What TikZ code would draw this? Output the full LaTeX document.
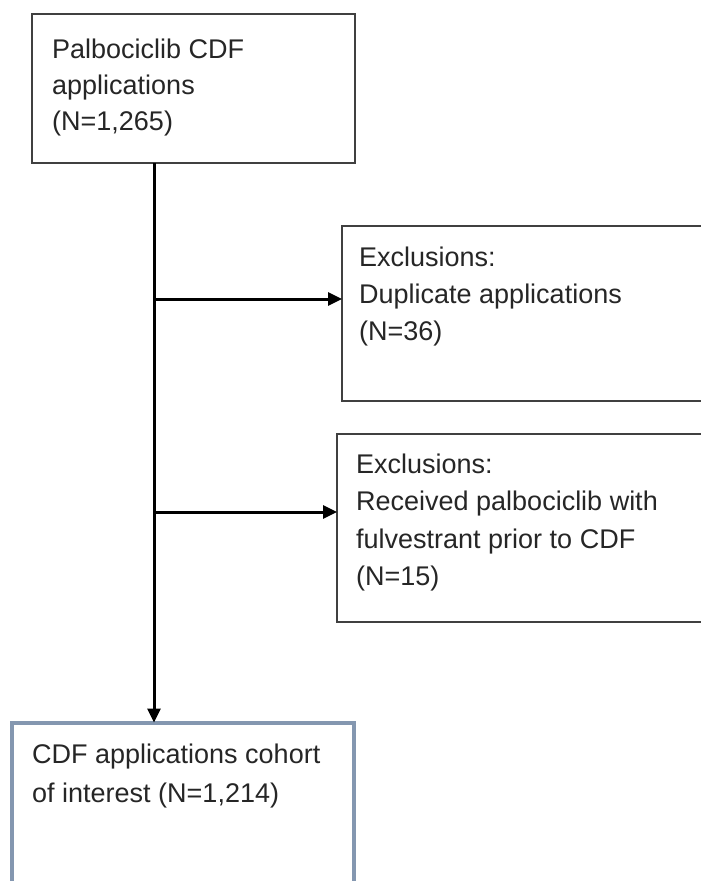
\documentclass[tikz,border=0pt]{standalone}
\usepackage{fontspec}
\setmainfont{Liberation Sans}
\usetikzlibrary{arrows.meta}
\definecolor{cohortblue}{HTML}{8497B0}
\definecolor{boxgray}{HTML}{404040}
\definecolor{txtgray}{HTML}{262626}
\begin{document}
\begin{tikzpicture}[x=1pt,y=-1pt,
  box/.style={draw=boxgray, line width=1.5pt, anchor=north west, inner sep=0pt, outer sep=0pt},
  txt/.style={anchor=base west, inner sep=0pt, font=\fontsize{27}{37}\selectfont, text=txtgray},
  conn/.style={line width=3pt, black},
  arr/.style={conn, -{Triangle[length=14pt,width=13pt]}}]
\clip (0,0) rectangle (701,881);
\fill[white] (0,0) rectangle (701,881);
% boxes
\node[box, minimum width=323pt, minimum height=149pt] (start) at (32,14) {};
\node[box, minimum width=420pt, minimum height=175pt] (ex1) at (342,226) {};
\node[box, minimum width=420pt, minimum height=188pt] (ex2) at (337,434) {};
\node[box, draw=cohortblue, line width=4pt, minimum width=342pt, minimum height=220pt] (cohort) at (12,722.5) {};
% texts
\node[txt] (s1) at (52,58) {Palbociclib CDF};
\node[txt] (s2) at (52,94) {applications};
\node[txt] (s3) at (52,130) {(N=1,265)};
\node[txt] (a1) at (359,266) {Exclusions:};
\node[txt] (a2) at (359,303) {Duplicate applications};
\node[txt] (a3) at (359,340) {(N=36)};
\node[txt] (b1) at (356,473) {Exclusions:};
\node[txt] (b2) at (356,510) {Received palbociclib with};
\node[txt] (b3) at (356,548) {fulvestrant prior to CDF};
\node[txt] (b4) at (356,585) {(N=15)};
\node[txt] (c1) at (32,763) {CDF applications cohort};
\node[txt] (c2) at (32,802) {of interest (N=1,214)};
% connectors
\coordinate (j1) at (154,299);
\coordinate (j2) at (154,512);
\draw[arr] (start.south -| j1) -- (cohort.north -| j1);
\draw[arr] (j1) -- (ex1.west |- j1);
\draw[arr] (j2) -- (ex2.west |- j2);
\end{tikzpicture}
\end{document}
